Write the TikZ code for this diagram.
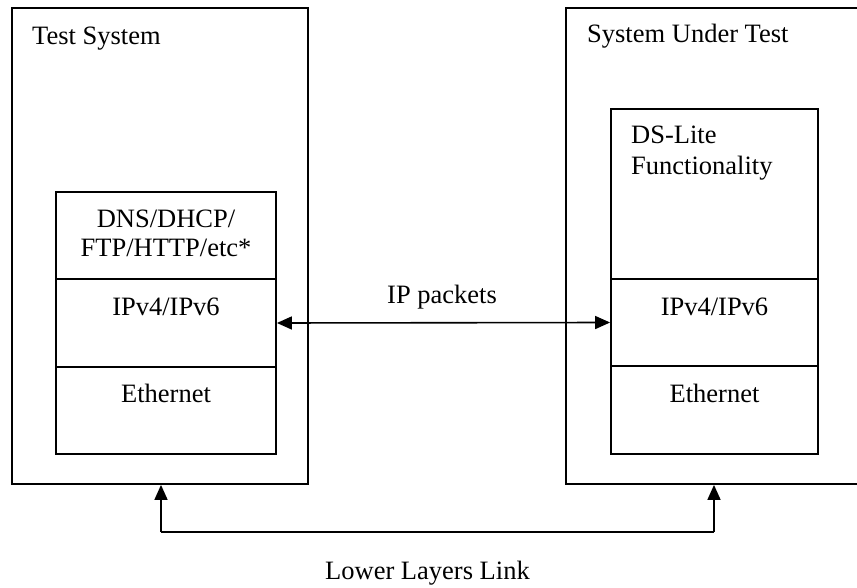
\documentclass[tikz,border=0pt]{standalone}
\usepackage{fontspec}
\setmainfont{Liberation Serif}
\usetikzlibrary{arrows.meta}
\begin{document}
\begin{tikzpicture}[x=1pt,y=-1pt,
  box/.style={draw=black,line width=1.8pt,rectangle,inner sep=0pt},
  txt/.style={inner sep=0pt,font=\fontsize{26.5}{29}\selectfont},
  conn/.style={line width=1.6pt,{Triangle[length=15pt,width=13pt]}-{Triangle[length=15pt,width=13pt]}},
  up/.style={line width=1.6pt,-{Triangle[length=15pt,width=13pt]}}]
\clip (0,0) rectangle (857,588);
\fill[white] (0,0) rectangle (857,588);
% outer boxes
\node[box,minimum width=296pt,minimum height=476pt] (lts) at (160,246) {};
\node[box,minimum width=300pt,minimum height=476pt] (sut) at (716,246) {};
\node[txt,anchor=base west] (ltst) at (32,45) {Test System};
\node[txt,anchor=base west] (sutt) at (587,43) {System Under Test};
% left stack
\node[box,minimum width=220pt,minimum height=87pt] (lapp) at (166,235.5) {};
\node[box,minimum width=220pt,minimum height=88pt] (lip) at (166,323) {};
\node[box,minimum width=220pt,minimum height=87pt] (leth) at (166,410.5) {};
\node[txt,anchor=base] (lappa) at (166,228) {DNS/DHCP/};
\node[txt,anchor=base] (lappb) at (166,257) {FTP/HTTP/etc*};
\node[txt,anchor=base] (lipt) at (166,315) {IPv4/IPv6};
\node[txt,anchor=base] (letht) at (166,402) {Ethernet};
% right stack
\node[box,minimum width=207pt,minimum height=170pt] (rds) at (714.5,194) {};
\node[box,minimum width=207pt,minimum height=87pt] (rip) at (714.5,322.5) {};
\node[box,minimum width=207pt,minimum height=88pt] (reth) at (714.5,410) {};
\node[txt,anchor=base west] (rdsa) at (631,144) {DS-Lite};
\node[txt,anchor=base west] (rdsb) at (631,175) {Functionality};
\node[txt,anchor=base] (ript) at (714.5,315) {IPv4/IPv6};
\node[txt,anchor=base] (retht) at (714.5,402) {Ethernet};
% IP packets
\draw[conn] (lip.east) -- (rip.west);
\node[txt,anchor=base] (ipl) at (442,303) {IP packets};
% lower layers link
\coordinate (la) at (161,532);
\coordinate (ra) at (714,532);
\draw[up] (la) -- (la |- lts.south);
\draw[up] (ra) -- (ra |- sut.south);
\draw[line width=1.6pt,line join=miter] (la) -- (ra);
\node[txt,anchor=base west] (lll) at (325,579) {Lower Layers Link};
\end{tikzpicture}
\end{document}
